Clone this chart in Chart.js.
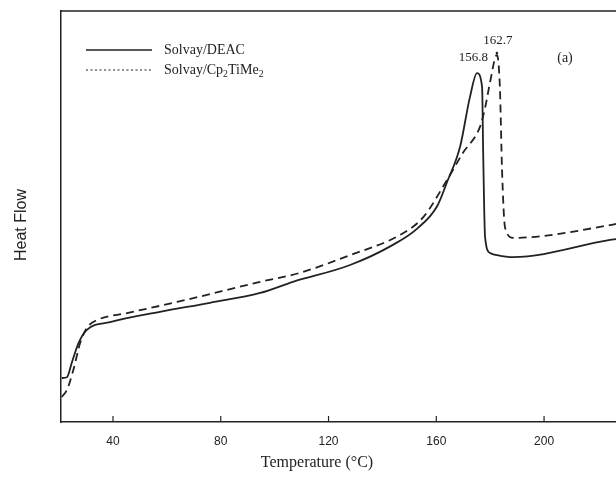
<!DOCTYPE html>
<html>
<head>
<meta charset="utf-8">
<script src="https://cdn.jsdelivr.net/npm/chart.js@4.4.0/dist/chart.umd.min.js"></script>
<style>
  html, body { margin: 0; padding: 0; background: #fff; }
  #wrap { position: relative; width: 616px; height: 478px; }
</style>
</head>
<body>
<div id="wrap"><canvas id="dsc" width="616" height="478"></canvas></div>
<script>
// x axis tick labels
const xTicks = [40, 80, 120, 160, 200];

// Solvay/DEAC (solid)
const tempDEAC = [21.0, 22.9, 24.7, 27.2, 30.3, 38.9, 57.4, 76.0, 94.6, 106.8, 128.0, 143.9, 152.8, 160.3, 164.0, 168.8, 172.5, 175.1, 177.0, 177.4, 178.1, 180.0, 182.6, 188.5, 224.5, 226.7];
const flowDEAC = [10.7, 10.9, 14.4, 19.2, 22.4, 24.3, 26.8, 29.0, 31.4, 34.1, 38.2, 43.1, 47.0, 52.5, 58.4, 66.9, 79.1, 84.9, 81.5, 65.5, 45.0, 41.1, 40.6, 40.1, 44.3, 44.5];

// Solvay/Cp2TiMe2 (dashed)
const tempCp = [21.0, 22.9, 25.3, 27.8, 30.3, 34.1, 45.2, 63.8, 94.6, 109.4, 128.0, 146.5, 155.1, 164.0, 169.9, 176.2, 178.1, 179.9, 182.5, 183.6, 184.4, 185.5, 188.5, 224.5, 226.7];
const flowCp = [6.1, 7.8, 12.7, 19.2, 22.9, 24.8, 26.5, 29.2, 34.1, 36.3, 40.6, 45.5, 49.8, 58.9, 65.5, 71.8, 76.4, 82.5, 89.3, 81.5, 61.3, 47.4, 44.8, 47.9, 48.2];

const seriesNames = ['Solvay/DEAC', 'Solvay/Cp2TiMe2'];
const peakLabels = ['156.8', '162.7'];

const ink = '#222';
const serif = '"Liberation Serif", "Times New Roman", serif';
const sans = '"Liberation Sans", Arial, sans-serif';

function pts(xs, ys) {
  return xs.map((x, i) => ({ x: x, y: ys[i] }));
}

// draws text with subscript parts
function drawParts(ctx, parts, x, y, size) {
  let cx = x;
  parts.forEach(p => {
    const s = p.sub ? size * 0.7 : size;
    ctx.font = s + 'px ' + serif;
    ctx.fillText(p.t, cx, p.sub ? y + size * 0.3 : y);
    cx += ctx.measureText(p.t).width;
  });
}

const decor = {
  id: 'decor',
  afterDraw(chart) {
    const ctx = chart.ctx;
    const area = chart.chartArea;
    const xs = chart.scales.x;
    const ys = chart.scales.y;
    ctx.save();
    ctx.strokeStyle = ink;
    ctx.fillStyle = ink;

    // top frame line
    ctx.lineWidth = 1.5;
    ctx.beginPath();
    ctx.moveTo(area.left, area.top);
    ctx.lineTo(area.right, area.top);
    ctx.stroke();

    // inward tick marks
    ctx.lineWidth = 1.2;
    xTicks.forEach(v => {
      const px = xs.getPixelForValue(v);
      ctx.beginPath();
      ctx.moveTo(px, area.bottom);
      ctx.lineTo(px, area.bottom - 6);
      ctx.stroke();
    });

    // legend
    ctx.lineWidth = 1.3;
    ctx.beginPath();
    ctx.moveTo(86, 50);
    ctx.lineTo(152, 50);
    ctx.stroke();
    ctx.setLineDash([2, 2.5]);
    ctx.lineWidth = 1;
    ctx.beginPath();
    ctx.moveTo(86, 70);
    ctx.lineTo(152, 70);
    ctx.stroke();
    ctx.setLineDash([]);

    ctx.textBaseline = 'middle';
    ctx.textAlign = 'left';
    ctx.font = '14px ' + serif;
    ctx.fillText(seriesNames[0], 164, 50);
    drawParts(ctx, [{ t: 'Solvay/Cp' }, { t: '2', sub: true }, { t: 'TiMe' }, { t: '2', sub: true }], 164, 70, 14);

    // peak labels
    const p1x = xs.getPixelForValue(tempDEAC[flowDEAC.indexOf(Math.max(...flowDEAC))]);
    const p2x = xs.getPixelForValue(tempCp[flowCp.indexOf(Math.max(...flowCp))]);
    const p2y = ys.getPixelForValue(Math.max(...flowCp));
    ctx.font = '13px ' + serif;
    ctx.textAlign = 'right';
    ctx.fillText(peakLabels[0], p1x + 11, 58);
    ctx.textAlign = 'center';
    ctx.fillText(peakLabels[1], p2x + 1, 41);
    ctx.beginPath();
    ctx.arc(p2x, p2y - 2, 1.3, 0, Math.PI * 2);
    ctx.fill();
    ctx.font = '14px ' + serif;
    ctx.fillText('(a)', 565, 58);

    // axis titles
    ctx.font = '16px ' + serif;
    ctx.fillText('Temperature (\u00B0C)', 317, 463);
    ctx.save();
    ctx.translate(22, 225);
    ctx.rotate(-Math.PI / 2);
    ctx.font = '16px ' + sans;
    ctx.fillText('Heat Flow', 0, 0);
    ctx.restore();

    ctx.restore();
  }
};

new Chart(document.getElementById('dsc'), {
  type: 'line',
  data: {
    datasets: [
      {
        label: seriesNames[0],
        data: pts(tempDEAC, flowDEAC),
        borderColor: ink,
        borderWidth: 1.8,
        pointRadius: 0,
        cubicInterpolationMode: 'monotone',
        fill: false
      },
      {
        label: seriesNames[1],
        data: pts(tempCp, flowCp),
        borderColor: ink,
        borderWidth: 1.8,
        borderDash: [8, 5],
        pointRadius: 0,
        cubicInterpolationMode: 'monotone',
        fill: false
      }
    ]
  },
  options: {
    responsive: false,
    animation: false,
    devicePixelRatio: 1,
    layout: { padding: { top: 11, right: 0, left: 0, bottom: 0 } },
    plugins: {
      legend: { display: false },
      tooltip: { enabled: false }
    },
    scales: {
      x: {
        type: 'linear',
        min: 20.7,
        max: 226.7,
        afterBuildTicks: (scale) => { scale.ticks = xTicks.map(v => ({ value: v })); },
        afterFit: (scale) => { scale.height = 56; },
        grid: { display: false },
        border: { display: true, color: ink, width: 1.5 },
        ticks: { color: ink, font: { family: sans, size: 12 }, padding: 4, maxRotation: 0 }
      },
      y: {
        min: 0,
        max: 100,
        afterFit: (scale) => { scale.width = 61; },
        grid: { display: false },
        border: { display: true, color: ink, width: 1.5 },
        ticks: { display: false }
      }
    }
  },
  plugins: [decor]
});
</script>
</body>
</html>
